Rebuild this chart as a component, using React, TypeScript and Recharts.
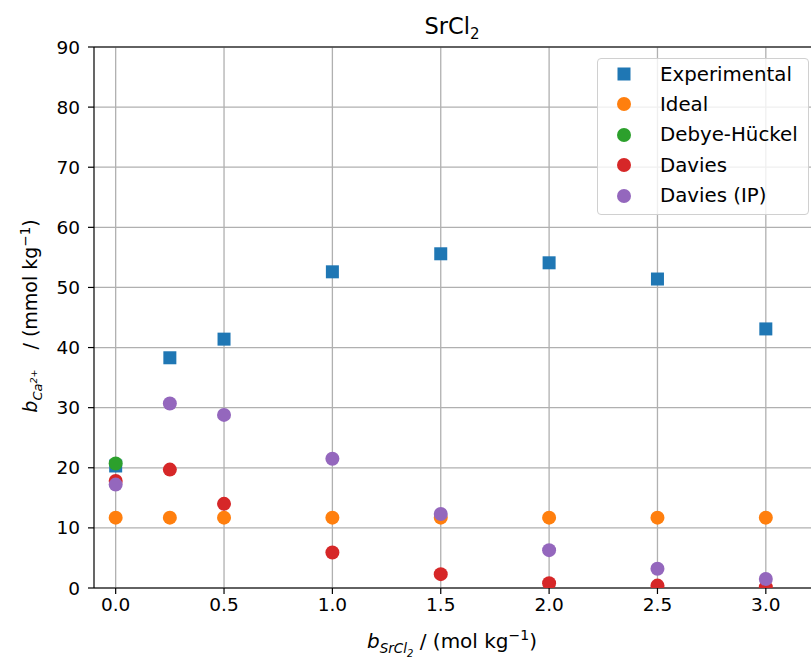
import { ScatterChart, Scatter, XAxis, YAxis, CartesianGrid, ReferenceLine } from 'recharts';

// molality of SrCl2 (mol/kg) and Ca2+ concentration (mmol/kg)
const molality = [0, 0.25, 0.5, 1.0, 1.5, 2.0, 2.5, 3.0];
const experimental = [20.3, 38.3, 41.4, 52.6, 55.6, 54.1, 51.4, 43.1];
const ideal = [11.7, 11.7, 11.7, 11.7, 11.7, 11.7, 11.7, 11.7];
const debyeHuckel = [20.7];
const davies = [17.8, 19.7, 14.0, 5.9, 2.3, 0.8, 0.4, 0.15];
const daviesIP = [17.2, 30.7, 28.8, 21.5, 12.3, 6.3, 3.2, 1.5];

const xTicks = [0, 0.5, 1.0, 1.5, 2.0, 2.5, 3.0];
const yTicks = [0, 10, 20, 30, 40, 50, 60, 70, 80, 90];

const series = [
    { name: 'Experimental', values: experimental, color: '#1f77b4', marker: 'square' },
    { name: 'Ideal', values: ideal, color: '#ff7f0e', marker: 'circle' },
    { name: 'Debye-Hückel', values: debyeHuckel, color: '#2ca02c', marker: 'circle' },
    { name: 'Davies', values: davies, color: '#d62728', marker: 'circle' },
    { name: 'Davies (IP)', values: daviesIP, color: '#9467bd', marker: 'circle' },
];

const toPoints = (values: number[]) => values.map((v, i) => ({ x: molality[i], y: v }));

const FONT = '"DejaVu Sans", sans-serif';

const makeShape = (marker: string, color: string) => (props: any) => {
    const { cx, cy } = props;
    if (cx == null || cy == null) return <g />;
    if (marker === 'square') {
        return <rect x={cx - 6.5} y={cy - 6.5} width={13} height={13} fill={color} />;
    }
    return <circle cx={cx} cy={cy} r={7} fill={color} />;
};

function LegendBox() {
    return (
        <div style={{
            position: 'absolute', left: 597, top: 58, width: 212, height: 157, boxSizing: 'border-box',
            background: 'rgba(255,255,255,0.8)', border: '1px solid #d0d0d0', borderRadius: 4,
            fontFamily: FONT, fontSize: 19.8, color: '#000',
        }}>
            {series.map((s, i) => (
                <div key={s.name} style={{ position: 'absolute', left: 0, top: 0 + i * 30.4, height: 30, display: 'flex', alignItems: 'center' }}>
                    <svg width={52} height={30} style={{ display: 'block' }}>
                        {s.marker === 'square'
                            ? <rect x={19.5} y={8.5} width={13} height={13} fill={s.color} />
                            : <circle cx={26} cy={15} r={7} fill={s.color} />}
                    </svg>
                    <span style={{ marginLeft: 10, whiteSpace: 'nowrap' }}>{s.name}</span>
                </div>
            ))}
        </div>
    );
}

export default function App() {
    return (
        <div style={{ position: 'absolute', left: 0, top: 0, width: 811, height: 659, overflow: 'hidden', background: '#fff', fontFamily: FONT }}>
            <ScatterChart width={830} height={659} margin={{ top: 47, right: 10, bottom: 41, left: 0 }}>
                <CartesianGrid stroke="#b0b0b0" strokeWidth={1.3} verticalValues={xTicks} horizontalValues={yTicks} />
                <XAxis
                    type="number"
                    dataKey="x"
                    domain={[-0.1, 3.25]}
                    ticks={xTicks}
                    allowDataOverflow
                    tickFormatter={(v: number) => v.toFixed(1)}
                    height={30}
                    tickSize={6}
                    tickMargin={4}
                    axisLine={{ stroke: '#000', strokeWidth: 1.2 }}
                    tickLine={{ stroke: '#000', strokeWidth: 1.2 }}
                    tick={{ fill: '#000', fontSize: 18.5, fontFamily: FONT }}
                />
                <YAxis
                    type="number"
                    dataKey="y"
                    domain={[0, 90]}
                    ticks={yTicks}
                    allowDataOverflow
                    width={94}
                    tickSize={6}
                    tickMargin={8}
                    axisLine={{ stroke: '#000', strokeWidth: 1.2 }}
                    tickLine={{ stroke: '#000', strokeWidth: 1.2 }}
                    tick={{ fill: '#000', fontSize: 18.5, fontFamily: FONT }}
                />
                <ReferenceLine y={90} stroke="#000" strokeWidth={1.2} />
                {series.map((s) => (
                    <Scatter
                        key={s.name}
                        name={s.name}
                        data={toPoints(s.values)}
                        fill={s.color}
                        shape={makeShape(s.marker, s.color)}
                        isAnimationActive={false}
                    />
                ))}
            </ScatterChart>

            <div style={{ position: 'absolute', left: 352, width: 200, top: 13, textAlign: 'center', fontSize: 22.5, color: '#000' }}>
                SrCl<sub style={{ fontSize: 15, verticalAlign: '-0.3em', lineHeight: 0 }}>2</sub>
            </div>

            <div style={{ position: 'absolute', left: 252, width: 400, top: 629, textAlign: 'center', fontSize: 20, color: '#000', whiteSpace: 'nowrap' }}>
                <i>b</i><sub style={{ fontSize: 13.5, fontStyle: 'italic', lineHeight: 0 }}>SrCl<sub style={{ fontSize: 10, lineHeight: 0 }}>2</sub></sub> / (mol kg<sup style={{ fontSize: 14, lineHeight: 0 }}>−1</sup>)
            </div>

            <div style={{
                position: 'absolute', left: 30, top: 318, width: 0, height: 0,
            }}>
                <div style={{
                    position: 'absolute', left: -200, top: -13, width: 400, textAlign: 'center',
                    transform: 'rotate(-90deg)', fontSize: 19, color: '#000', whiteSpace: 'nowrap',
                }}>
                    <i>b</i><sub style={{ fontSize: 13, fontStyle: 'italic', lineHeight: 0 }}>Ca<sup style={{ fontSize: 9.5, lineHeight: 0 }}>2+</sup></sub><span style={{ marginLeft: 20 }}>/ (mmol kg<sup style={{ fontSize: 13.5, lineHeight: 0 }}>−1</sup>)</span>
                </div>
            </div>

            <LegendBox />
        </div>
    );
}
